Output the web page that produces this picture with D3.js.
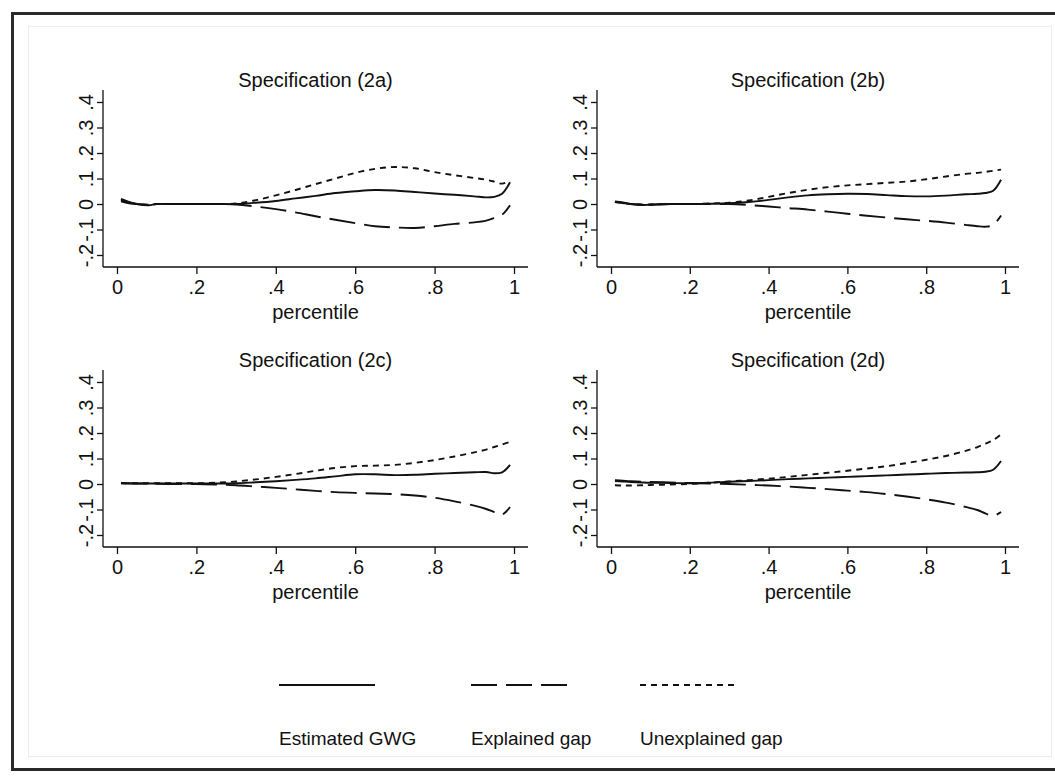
<!DOCTYPE html>
<html>
<head>
<meta charset="utf-8">
<script src="https://cdn.jsdelivr.net/npm/d3@7"></script>
<style>
  html, body { margin: 0; padding: 0; background: #fff; }
  svg { display: block; font-family: "Liberation Sans", Arial, sans-serif; }
</style>
</head>
<body>
<svg id="chart" width="1055" height="776"></svg>
<script>
// Percentile grid shared by every panel
const percentiles = [0.01,0.03,0.05,0.08,0.10,0.15,0.20,0.25,0.30,0.35,0.40,0.45,0.50,0.55,0.60,0.65,0.70,0.75,0.80,0.85,0.90,0.93,0.95,0.97,0.99];

const panelTitles = ["Specification (2a)", "Specification (2b)", "Specification (2c)", "Specification (2d)"];
const seriesNames = ["Estimated GWG", "Explained gap", "Unexplained gap"];

const xTicks = [0, 0.2, 0.4, 0.6, 0.8, 1];
const xTickLabels = ["0", ".2", ".4", ".6", ".8", "1"];
const yTicks = [-0.2, -0.1, 0, 0.1, 0.2, 0.3, 0.4];
const yTickLabels = ["-.2", "-.1", "0", ".1", ".2", ".3", ".4"];

// Specification (2a)
const gwg2a = [0.020,0.008,0.000,-0.005,0.000,0.000,0.000,0.000,0.000,0.005,0.012,0.022,0.032,0.043,0.050,0.055,0.053,0.047,0.041,0.036,0.030,0.026,0.028,0.040,0.085];
const exp2a = [0.010,0.003,0.000,-0.003,0.000,0.000,0.000,0.000,-0.002,-0.010,-0.020,-0.033,-0.048,-0.062,-0.075,-0.087,-0.092,-0.094,-0.087,-0.078,-0.072,-0.065,-0.055,-0.042,-0.005];
const une2a = [0.015,0.005,0.000,-0.003,0.000,0.000,0.000,0.000,0.002,0.015,0.034,0.055,0.078,0.100,0.122,0.138,0.145,0.140,0.125,0.113,0.102,0.095,0.088,0.080,0.092];

// Specification (2b)
const gwg2b = [0.010,0.006,0.000,-0.004,-0.003,0.000,0.000,0.001,0.003,0.008,0.016,0.026,0.034,0.038,0.040,0.039,0.035,0.031,0.030,0.033,0.038,0.040,0.043,0.052,0.095];
const exp2b = [0.008,0.004,0.000,-0.002,-0.002,0.000,0.000,0.000,0.000,-0.004,-0.010,-0.016,-0.022,-0.030,-0.038,-0.046,-0.053,-0.060,-0.066,-0.073,-0.082,-0.087,-0.089,-0.082,-0.045];
const une2b = [0.008,0.004,0.000,-0.002,-0.002,0.000,0.000,0.002,0.005,0.014,0.028,0.043,0.056,0.066,0.073,0.078,0.083,0.088,0.097,0.108,0.118,0.122,0.126,0.130,0.135];

// Specification (2c)
const gwg2c = [0.004,0.003,0.002,0.002,0.002,0.002,0.002,0.002,0.003,0.007,0.011,0.016,0.022,0.030,0.038,0.038,0.035,0.036,0.040,0.043,0.046,0.047,0.042,0.046,0.075];
const exp2c = [0.003,0.002,0.002,0.002,0.001,0.000,0.000,-0.002,-0.005,-0.010,-0.015,-0.021,-0.027,-0.032,-0.035,-0.037,-0.040,-0.045,-0.054,-0.068,-0.085,-0.098,-0.110,-0.120,-0.090];
const une2c = [0.003,0.003,0.003,0.003,0.003,0.003,0.003,0.005,0.010,0.018,0.028,0.039,0.052,0.063,0.070,0.072,0.075,0.083,0.094,0.108,0.124,0.135,0.145,0.155,0.165];

// Specification (2d)
const gwg2d = [0.012,0.010,0.008,0.006,0.005,0.004,0.003,0.005,0.009,0.012,0.015,0.019,0.022,0.025,0.028,0.031,0.034,0.037,0.040,0.043,0.045,0.046,0.048,0.056,0.090];
const exp2d = [0.015,0.013,0.011,0.009,0.008,0.006,0.004,0.002,0.000,-0.003,-0.006,-0.010,-0.015,-0.020,-0.026,-0.032,-0.040,-0.049,-0.060,-0.073,-0.090,-0.102,-0.115,-0.125,-0.110];
const une2d = [-0.005,-0.006,-0.006,-0.005,-0.004,-0.002,0.000,0.005,0.010,0.015,0.021,0.028,0.036,0.044,0.052,0.061,0.070,0.082,0.095,0.110,0.130,0.145,0.158,0.172,0.195];

const panelData = [
  [gwg2a, exp2a, une2a],
  [gwg2b, exp2b, une2b],
  [gwg2c, exp2c, une2c],
  [gwg2d, exp2d, une2d]
];

// ---- layout / styling ----
const dashes = [null, "26 9", "6 5"];
const ink = "#111";
const fontSize = 20;
const fontFamily = "Liberation Sans, Arial, sans-serif";

const svg = d3.select("#chart");

// outer frame and faint inner region
svg.append("rect").attr("x", 28.5).attr("y", 26.5).attr("width", 1023).attr("height", 730)
  .attr("fill", "none").attr("stroke", "#ececec").attr("stroke-width", 1);
svg.append("path").attr("d", "M1060,13.5 H12.5 V769.5 H1060")
  .attr("fill", "none").attr("stroke", "#2a2a2a").attr("stroke-width", 3);

// panel origins: position of x=0 / x=1 ticks, y-axis line and y=0 line
const panelPos = [
  { x0: 117, x1: 514, yAxisX: 103, yZero: 204 },
  { x0: 611, x1: 1005, yAxisX: 597, yZero: 204 },
  { x0: 117, x1: 514, yAxisX: 103, yZero: 484 },
  { x0: 611, x1: 1005, yAxisX: 597, yZero: 484 }
];
const pxPerUnit = 255; // vertical pixels per 1.0

panelPos.forEach((pp, i) => {
  const x = d3.scaleLinear().domain([0, 1]).range([pp.x0, pp.x1]);
  const y = d3.scaleLinear().domain([0, 0.4]).range([pp.yZero, pp.yZero - 0.4 * pxPerUnit]);
  const xPad = (pp.x0 - pp.yAxisX);
  const yTop = y(0.4) - 12;
  const yBottom = y(-0.2) + 12;
  const g = svg.append("g");

  // title
  g.append("text")
    .attr("x", (pp.x0 + pp.x1) / 2).attr("y", y(0.4) - 15)
    .attr("text-anchor", "middle").attr("font-size", fontSize).attr("fill", ink)
    .text(panelTitles[i]);

  // y axis
  const yAxis = d3.axisLeft(y).tickValues(yTicks).tickSize(6).tickPadding(5)
    .tickFormat((d, k) => yTickLabels[k]);
  const ya = g.append("g").attr("transform", `translate(${pp.yAxisX},0)`).call(yAxis);
  ya.select(".domain").remove();
  ya.append("line").attr("x1", 0).attr("x2", 0).attr("y1", yTop).attr("y2", yBottom)
    .attr("stroke", ink).attr("stroke-width", 1.3);
  ya.selectAll(".tick line").attr("stroke", ink).attr("stroke-width", 1.3);
  ya.selectAll(".tick text")
    .attr("font-size", fontSize).attr("fill", ink).attr("font-family", fontFamily)
    .attr("x", null).attr("dy", null)
    .attr("text-anchor", "middle")
    .attr("transform", "translate(-10,0) rotate(-90)");

  // x axis
  const xAxis = d3.axisBottom(x).tickValues(xTicks).tickSize(7).tickPadding(6)
    .tickFormat((d, k) => xTickLabels[k]);
  const xa = g.append("g").attr("transform", `translate(0,${yBottom})`).call(xAxis);
  xa.select(".domain").remove();
  xa.append("line").attr("x1", pp.yAxisX).attr("x2", x(1) + xPad).attr("y1", 0).attr("y2", 0)
    .attr("stroke", ink).attr("stroke-width", 1.3);
  xa.selectAll(".tick line").attr("stroke", ink).attr("stroke-width", 1.3);
  xa.selectAll(".tick text").attr("font-size", fontSize).attr("fill", ink)
    .attr("font-family", fontFamily);

  g.append("text")
    .attr("x", (pp.x0 + pp.x1) / 2).attr("y", yBottom + 52)
    .attr("text-anchor", "middle").attr("font-size", fontSize).attr("fill", ink)
    .text("percentile");

  // series lines
  const line = d3.line()
    .x((d, k) => x(percentiles[k]))
    .y(d => y(d))
    .curve(d3.curveCatmullRom.alpha(0.5));
  panelData[i].forEach((vals, s) => {
    g.append("path").datum(vals)
      .attr("d", line)
      .attr("fill", "none").attr("stroke", ink).attr("stroke-width", 1.9)
      .attr("stroke-dasharray", dashes[s]);
  });
});

// legend
const legendX = [279, 471, 640];
const legendLen = 96;
seriesNames.forEach((name, s) => {
  svg.append("line")
    .attr("x1", legendX[s]).attr("x2", legendX[s] + legendLen)
    .attr("y1", 685).attr("y2", 685)
    .attr("stroke", ink).attr("stroke-width", 2)
    .attr("stroke-dasharray", dashes[s]);
  svg.append("text")
    .attr("x", legendX[s]).attr("y", 745)
    .attr("font-size", 19).attr("fill", ink)
    .text(name);
});
</script>
</body>
</html>
